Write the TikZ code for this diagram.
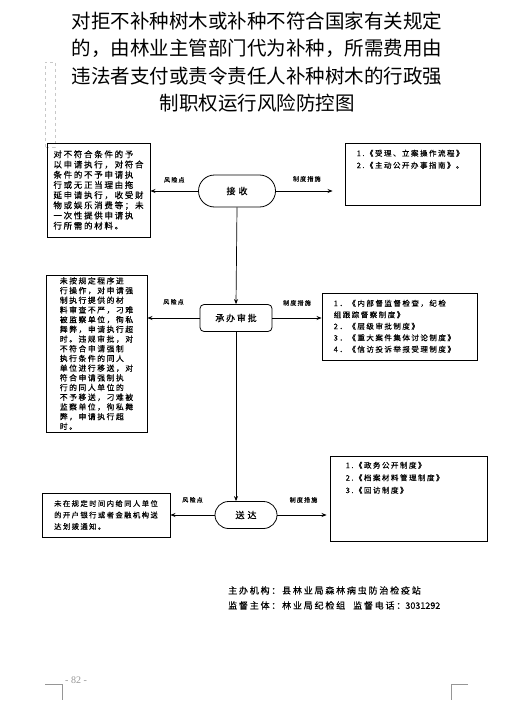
\documentclass[tikz,border=0pt]{standalone}
\usepackage{fontspec}
\usepackage{tikz}
\usetikzlibrary{arrows.meta,positioning,calc}
\setmainfont{Noto Sans CJK SC}
\newfontfamily\boxfont[LetterSpace=20,FakeBold=0.4]{Noto Sans CJK SC}
\newfontfamily\plainfont[FakeBold=0.4]{Noto Sans CJK SC}
\newfontfamily\numfont{Liberation Serif}
\definecolor{linegray}{RGB}{150,150,150}
\definecolor{dashgray}{RGB}{200,200,200}
\tikzset{
  box/.style={
    draw=black,
    line width=0.9pt,
    align=left,
    inner sep=0pt
  },
  frame/.style={
    draw=black,
    line width=0.9pt,
    inner sep=0pt
  },
  listtext/.style={
    align=left,
    inner sep=0pt,
    font=\fontsize{7.5pt}{12pt}\boxfont
  },
  stage/.style={
    draw=black,
    line width=0.8pt,
    inner sep=0pt,
    font=\fontsize{9pt}{11pt}\boxfont
  },
  tag/.style={
    inner sep=0pt,
    font=\fontsize{6pt}{7pt}\boxfont
  },
  flow/.style={-{Stealth[length=5pt,width=4pt]}, line width=0.7pt, draw=black}
}
\begin{document}
\begin{tikzpicture}[x=1pt,y=1pt]
  \useasboundingbox[fill=white] (0,0) rectangle (525,-706);
  \node[inner sep=0pt, align=center, font=\fontsize{19.5pt}{27.5pt}\selectfont] (title) at (257,-62)
    {对拒不补种树木或补种不符合国家有关规定\\的，由林业主管部门代为补种，所需费用由\\违法者支付或责令责任人补种树木的行政强\\制职权运行风险防控图};
  \draw[dashgray, dashed, line width=0.6pt] (45,-147) -- (45,-62) -- (55,-62) -- (55,-147) -- cycle;

  \node[box, minimum width=103pt, minimum height=94pt, font=\fontsize{8.5pt}{10.2pt}\boxfont] (risk1) at (98.5,-190)
    {对不符合条件的予\\以申请执行，对符合\\条件的不予申请执\\行或无正当理由拖\\延申请执行，收受财\\物或娱乐消费等；未\\一次性提供申请执\\行所需的材料。};
  \node[stage, minimum width=77pt, minimum height=32pt, rounded corners=16pt] (jieshou) at (237,-191) {接\hspace{3pt}收};
  \node[frame, minimum width=135pt, minimum height=62pt] (sys1) at (412.5,-174) {};
  \node[listtext, below right=7pt and 12pt of sys1.north west] (sys1text)
    {1.《受理、立案操作流程》\\2.《主动公开办事指南》。};

  \node[box, minimum width=101pt, minimum height=157pt, font=\fontsize{7.8pt}{9.7pt}\boxfont] (risk2) at (96.5,-353.5)
    {未按规定程序进\\行操作，对申请强\\制执行提供的材\\料审查不严，刁难\\被监察单位，徇私\\舞弊，申请执行超\\时。违规审批，对\\不符合申请强制\\执行条件的同人\\单位进行移送，对\\符合申请强制执\\行的同人单位的\\不予移送，刁难被\\监察单位，徇私舞\\弊，申请执行超\\时。};
  \node[stage, minimum width=72pt, minimum height=27pt, rounded corners=4pt] (chengban) at (236,-318) {承办审批};
  \node[frame, minimum width=155pt, minimum height=67pt] (sys2) at (399.5,-326.5) {};
  \node[listtext, font=\fontsize{7.5pt}{11.5pt}\boxfont, below right=7pt and 12pt of sys2.north west] (sys2text)
    {1．《内部督监督检查，纪检\\组跟踪督察制度》\\2．《层级审批制度》\\3．《重大案件集体讨论制度》\\4．《信访投诉举报受理制度》};

  \node[box, minimum width=128pt, minimum height=44pt, font=\fontsize{7.3pt}{11.5pt}\boxfont] (risk3) at (106,-515)
    {未在规定时间内给同人单位\\的开户银行或者金融机构送\\达划拨通知。};
  \node[stage, minimum width=62pt, minimum height=27pt, rounded corners=13.5pt] (songda) at (246,-515) {送\hspace{3pt}达};
  \node[frame, minimum width=157pt, minimum height=85pt] (sys3) at (408.5,-498.5) {};
  \node[listtext, font=\fontsize{7.5pt}{12.5pt}\boxfont, below right=6pt and 16pt of sys3.north west] (sys3text)
    {1.《政务公开制度》\\2.《档案材料管理制度》\\3.《回访制度》};

  \draw[flow] (jieshou.west) -- (jieshou.west -| risk1.east) node[tag, midway, above=8pt] {风险点};
  \draw[flow, shorten >=12pt] (jieshou.east) -- (jieshou.east -| sys1.west) node[tag, pos=0.45, above=9pt] {制度措施};
  \draw[flow] (jieshou.south) -- (chengban.north);
  \draw[flow] (chengban.west) -- (chengban.west -| risk2.east) node[tag, midway, above=13pt] {风险点};
  \draw[flow] (chengban.east) -- (chengban.east -| sys2.west) node[tag, midway, above=12pt] {制度措施};
  \draw[flow] (chengban.south) -- (chengban.south |- songda.north);
  \draw[flow] (songda.west) -- (songda.west -| risk3.east) node[tag, midway, above=12pt] {风险点};
  \draw[flow, shorten >=3pt] (songda.east) -- (songda.east -| sys3.west) node[tag, midway, above=12pt] {制度措施};

  \node[anchor=north west, inner sep=0pt, align=left, font=\fontsize{9pt}{15pt}\boxfont] (footer) at (228,-586)
    {主办机构：县林业局森林病虫防治检疫站\\监督主体：林业局纪检组\hspace{8pt}监督电话：{\plainfont 3031292}};

  \node[inner sep=0pt, text=linegray, font=\fontsize{10pt}{12pt}\numfont] (pageno) at (76,-680) {- 82 -};
  \draw[linegray, line width=0.6pt] (45,-684) -- (62,-684) -- (62,-700);
  \draw[linegray, line width=0.6pt] (468,-684) -- (451,-684) -- (451,-700);
\end{tikzpicture}
\end{document}
